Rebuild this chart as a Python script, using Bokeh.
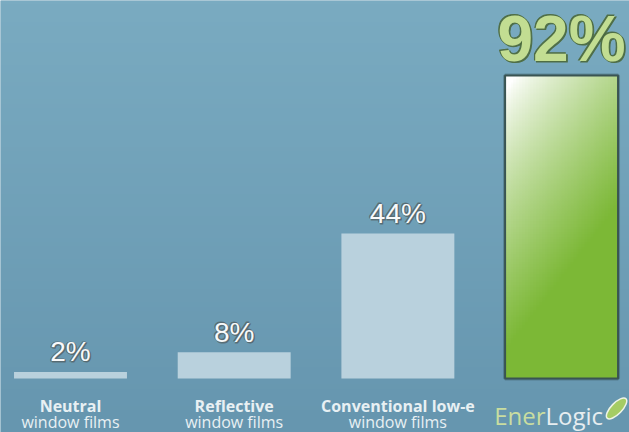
import numpy as np
from bokeh.plotting import figure
from bokeh.models import Range1d
from bokeh.core.properties import value
from bokeh.embed import file_html
from bokeh.resources import INLINE

# ---- data ----
categories = ["Neutral", "Reflective", "Conventional low-e"]
sublabels = ["window films", "window films", "window films"]
values = [2, 8, 44]
value_labels = ["2%", "8%", "44%"]
brand_value = 92
brand_label = "92%"
brand_parts = ["Ener", "Logic"]

xs = list(range(len(values)))
brand_x = len(values)
BAR_W = 0.69

W, H = 629, 432
p = figure(width=W, height=H, output_backend="svg", toolbar_location=None,
           x_range=Range1d(-0.4276, 3.415), y_range=Range1d(-16.4, 114.8),
           min_border=0)
p.axis.visible = False
p.grid.visible = False
p.outline_line_color = None
p.background_fill_color = "#74a4bc"
p.border_fill_color = "#74a4bc"

# subtle vertical background gradient
ny = 100
top_c = np.array([122, 171, 193])
bot_c = np.array([102, 150, 175])
bg = np.zeros((ny, 1), dtype=np.uint32)
bgv = bg.view(dtype=np.uint8).reshape((ny, 1, 4))
for j in range(ny):
    t = j / (ny - 1)
    c = bot_c + (top_c - bot_c) * t
    bgv[j, 0, :3] = c.astype(np.uint8)
    bgv[j, 0, 3] = 255
xr, yr = p.x_range, p.y_range
p.image_rgba(image=[bg], x=xr.start, y=yr.start, dw=xr.end - xr.start, dh=yr.end - yr.start)

# plain bars
p.vbar(x=xs, top=values, bottom=0, width=BAR_W, fill_color="#b9d1dd", line_color=None)

# gradient brand bar
gw, gh = 40, 120
img = np.zeros((gh, gw), dtype=np.uint32)
v = img.view(dtype=np.uint8).reshape((gh, gw, 4))
white = np.array([255, 255, 255])
green = np.array([124, 184, 54])
for j in range(gh):
    down = 1 - j / (gh - 1)  # 0 at top, 1 at bottom
    for i in range(gw):
        u = i / (gw - 1)
        t = min(1.0, max(0.0, 1.15 * down + 0.55 * u - 0.05))
        t = t ** 0.8
        c = white + (green - white) * t
        v[j, i, :3] = c.astype(np.uint8)
        v[j, i, 3] = 255
# soft shadow behind the brand bar
p.quad(left=[brand_x - BAR_W / 2], right=[brand_x + BAR_W / 2], bottom=[0], top=[brand_value],
       fill_color=None, line_color="#2f4a52", line_width=4, line_alpha=0.35)
p.image_rgba(image=[img], x=brand_x - BAR_W / 2, y=0, dw=BAR_W, dh=brand_value)
p.quad(left=[brand_x - BAR_W / 2], right=[brand_x + BAR_W / 2], bottom=[0], top=[brand_value],
       fill_color=None, line_color="#3a5452", line_width=2)

# value labels (dark halo, then white text)
for dx, dy in [(1.0, 1.0), (-0.8, -0.8)]:
    p.text(x=xs, y=values, text=value_labels, text_align="center", text_baseline="middle",
           y_offset=-20 + dy, x_offset=dx, text_font=value("Liberation Sans"),
           text_font_size="28px", text_color="#56696f", text_outline_color="#56696f",
           text_alpha=0.85)
p.text(x=xs, y=values, text=value_labels, text_align="center", text_baseline="middle",
       y_offset=-20, text_font=value("Liberation Sans"), text_font_size="28px",
       text_color="#f8fafb")

for dx, dy in [(1.2, 1.2), (-0.9, -0.9)]:
    p.text(x=[brand_x], y=[brand_value], text=[brand_label], text_align="center",
           text_baseline="middle", y_offset=-37 + dy, x_offset=dx,
           text_font=value("Liberation Sans"), text_font_style="bold",
           text_font_size="64px", text_color="#4d6a3e", text_outline_color="#4d6a3e",
           text_alpha=0.9)
p.text(x=[brand_x], y=[brand_value], text=[brand_label], text_align="center",
       text_baseline="middle", y_offset=-37, text_font=value("Liberation Sans"),
       text_font_style="bold", text_font_size="64px", text_color="#c2dd92")

# category labels
p.text(x=xs, y=[0] * len(xs), text=categories, text_align="center", text_baseline="middle",
       y_offset=27, text_font=value("Open Sans"), text_font_style="bold",
       text_font_size="16px", text_color="#e8f0f3")
p.text(x=xs, y=[0] * len(xs), text=sublabels, text_align="center", text_baseline="middle",
       y_offset=43, text_font=value("Open Sans"), text_font_size="16px", text_color="#e8f0f3")

# brand logo text
p.text(x=[brand_x], y=[0], text=[brand_parts[0]], text_align="right", text_baseline="middle",
       x_offset=-16, y_offset=37, text_font=value("Open Sans"), text_font_size="24px",
       text_color="#c9dda0")
p.text(x=[brand_x], y=[0], text=[brand_parts[1]], text_align="left", text_baseline="middle",
       x_offset=-16, y_offset=37, text_font=value("Open Sans"), text_font_size="24px",
       text_color="#e6edf0")
p.ellipse(x=[brand_x + 0.336], y=[-9.1], width=27, height=11, angle=0.8,
          width_units="screen", height_units="screen", fill_color="#a5cc64",
          line_color="#eef4e6", line_width=1.5)

open("out.html", "w").write(file_html(p, INLINE))
